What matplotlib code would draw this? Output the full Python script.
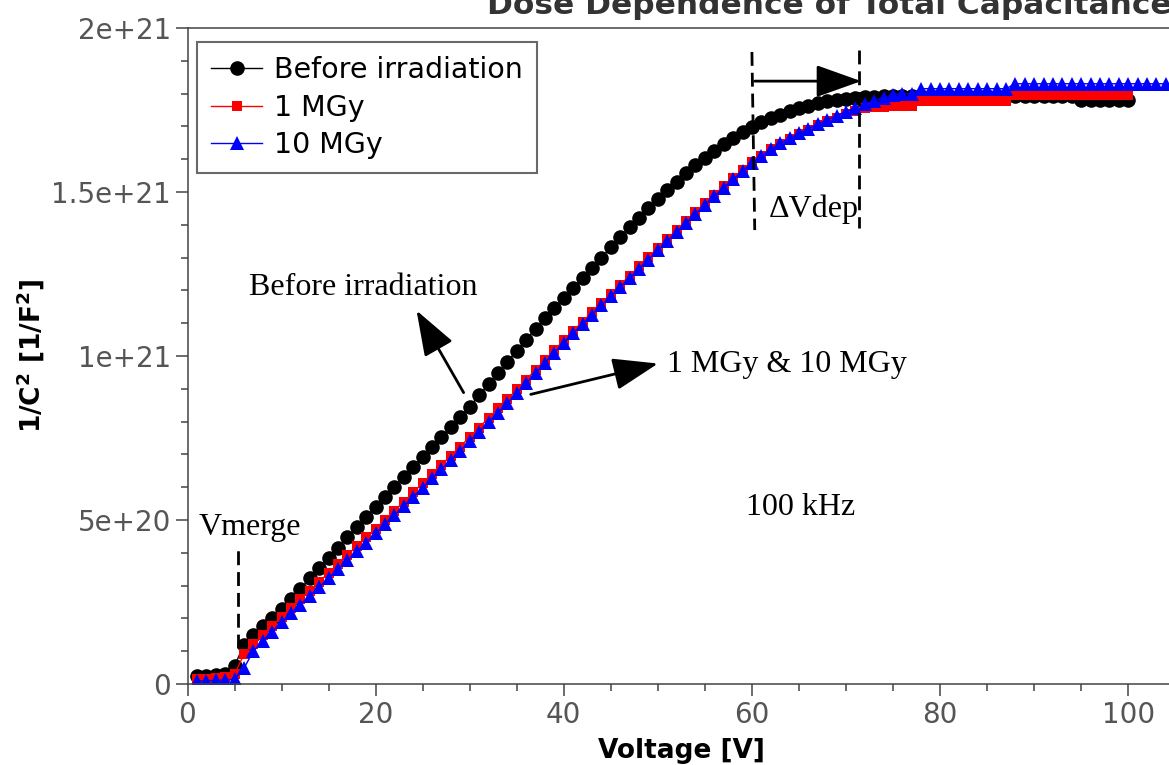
import numpy as np
import matplotlib
matplotlib.use("Agg")
import matplotlib.pyplot as plt
from matplotlib.ticker import MultipleLocator

# bias voltage [V]
volt = np.arange(1, 101)
volt_10 = np.arange(1, 106)

# 1/C^2 in units of 1e21 1/F^2
before = [0.025, 0.025, 0.026, 0.032, 0.055, 0.120, 0.150, 0.176, 0.202, 0.228,
          0.258, 0.290, 0.322, 0.354, 0.385, 0.416, 0.447, 0.478, 0.509, 0.540,
          0.571, 0.602, 0.632, 0.662, 0.692, 0.722, 0.752, 0.783, 0.814, 0.846,
          0.880, 0.914, 0.948, 0.982, 1.016, 1.050, 1.083, 1.115, 1.146, 1.176,
          1.206, 1.237, 1.268, 1.300, 1.331, 1.362, 1.392, 1.422, 1.451, 1.479,
          1.506, 1.532, 1.557, 1.581, 1.604, 1.626, 1.646, 1.665, 1.682, 1.698,
          1.712, 1.725, 1.736, 1.746, 1.755, 1.763, 1.770, 1.776, 1.781, 1.785,
          1.788, 1.790, 1.791, 1.792, 1.792, 1.792, 1.792, 1.792, 1.792, 1.792,
          1.792, 1.792, 1.792, 1.792, 1.792, 1.792, 1.792, 1.792, 1.792, 1.792,
          1.792, 1.792, 1.792, 1.792, 1.782, 1.782, 1.782, 1.782, 1.782, 1.782]

mgy1 = [0.015, 0.016, 0.017, 0.020, 0.030, 0.090, 0.122, 0.150, 0.177, 0.204,
        0.231, 0.258, 0.285, 0.312, 0.339, 0.366, 0.393, 0.420, 0.447, 0.474,
        0.501, 0.528, 0.556, 0.584, 0.612, 0.640, 0.668, 0.696, 0.724, 0.753,
        0.782, 0.811, 0.840, 0.869, 0.898, 0.928, 0.958, 0.988, 1.018, 1.048,
        1.077, 1.105, 1.133, 1.161, 1.189, 1.217, 1.245, 1.273, 1.301, 1.329,
        1.357, 1.385, 1.412, 1.439, 1.466, 1.492, 1.518, 1.543, 1.567, 1.590,
        1.611, 1.630, 1.647, 1.663, 1.677, 1.690, 1.703, 1.715, 1.727, 1.738,
        1.748, 1.756, 1.760, 1.760, 1.762, 1.762, 1.762, 1.776, 1.776, 1.776,
        1.776, 1.776, 1.776, 1.776, 1.776, 1.776, 1.776, 1.796, 1.796, 1.796,
        1.796, 1.796, 1.796, 1.796, 1.796, 1.796, 1.796, 1.796, 1.796, 1.796]

mgy10 = [0.010, 0.010, 0.011, 0.012, 0.014, 0.048, 0.100, 0.132, 0.160, 0.188,
         0.215, 0.242, 0.269, 0.296, 0.323, 0.350, 0.377, 0.404, 0.431, 0.459,
         0.487, 0.515, 0.543, 0.571, 0.599, 0.627, 0.655, 0.683, 0.711, 0.740,
         0.769, 0.798, 0.827, 0.856, 0.886, 0.917, 0.948, 0.979, 1.010, 1.040,
         1.070, 1.098, 1.126, 1.154, 1.182, 1.210, 1.238, 1.266, 1.294, 1.322,
         1.350, 1.378, 1.406, 1.433, 1.460, 1.487, 1.513, 1.539, 1.564, 1.588,
         1.610, 1.630, 1.648, 1.664, 1.679, 1.693, 1.707, 1.720, 1.733, 1.745,
         1.757, 1.768, 1.778, 1.788, 1.797, 1.800, 1.800, 1.815, 1.815, 1.815,
         1.815, 1.815, 1.815, 1.815, 1.815, 1.815, 1.815, 1.830, 1.830, 1.830,
         1.830, 1.830, 1.830, 1.830, 1.830, 1.830, 1.830, 1.830, 1.830, 1.830,
         1.830, 1.830, 1.830, 1.830, 1.830]

scale = 1e21
ytick_vals = [0, 5e20, 1e21, 1.5e21, 2e21]
ytick_labels = ["0", "5e+20", "1e+21", "1.5e+21", "2e+21"]

fig = plt.figure(figsize=(11.69, 7.65), dpi=100)
ax = fig.add_axes([187.5 / 1169, 81 / 765, 105 * 9.407 / 1169, 656 / 765])

ax.plot(volt, np.array(before) * scale, "-o", color="black", lw=1,
        ms=10.5, mew=0, label="Before irradiation")
ax.plot(volt, np.array(mgy1) * scale, "-s", color="red", lw=1,
        ms=7, mew=0, label="1 MGy")
ax.plot(volt_10, np.array(mgy10) * scale, "-^", color="blue", lw=1,
        ms=10, mew=0, label="10 MGy")

ax.set_xlim(0, 105)
ax.set_ylim(0, 2e21)
ax.set_yticks(ytick_vals)
ax.set_yticklabels(ytick_labels)
ax.xaxis.set_major_locator(MultipleLocator(20))
ax.xaxis.set_minor_locator(MultipleLocator(5))
ax.yaxis.set_minor_locator(MultipleLocator(1e20))
ax.tick_params(which="both", direction="out", color="#444444", labelcolor="#555555",
               labelsize=20, width=1.1)
ax.tick_params(which="major", length=8.5)
ax.tick_params(which="minor", length=5)
for s in ax.spines.values():
    s.set_color("#444444")
    s.set_linewidth(1.1)

ax.set_xlabel("Voltage [V]", fontsize=19, fontweight="bold", labelpad=7)
ax.set_ylabel("1/C$^\\mathbf{2}$ [1/F$^\\mathbf{2}$]", fontsize=19,
              fontweight="bold", labelpad=3)

leg = ax.legend(loc="upper left", fontsize=20.5, frameon=True, fancybox=False,
                borderpad=0.5, labelspacing=0.33, handlelength=1.8,
                handletextpad=0.4, borderaxespad=0,
                bbox_to_anchor=(0.0096, 0.9787))
leg.get_frame().set_edgecolor("#444444")
leg.get_frame().set_linewidth(1.5)

fig.text(487 / 1169, 1 - 14 / 765, "Dose Dependence of Total Capacitance",
         fontsize=22.5, fontweight="bold", color="#333333", va="baseline", ha="left")

serif = "Liberation Serif"
arrow = dict(arrowstyle="-|>,head_length=1.4,head_width=0.5", color="black",
             lw=2, mutation_scale=20)

ax.text(18.66, 1.21e21, "Before irradiation", family=serif, fontsize=23,
        ha="center", va="center")
ax.annotate("", xy=(24.2, 1.146e21), xytext=(29.5, 0.881e21), arrowprops=arrow)
ax.text(51.0, 0.973e21, "1 MGy & 10 MGy", family=serif, fontsize=23,
        ha="left", va="center")
ax.annotate("", xy=(50.3, 0.979e21), xytext=(36.2, 0.881e21), arrowprops=arrow)
ax.text(65.2, 0.537e21, "100 kHz", family=serif, fontsize=23, ha="center", va="center")
ax.text(6.6, 0.476e21, "Vmerge", family=serif, fontsize=23, ha="center", va="center")
ax.text(66.6, 1.448e21, "\u0394Vdep", family=serif, fontsize=23, ha="center", va="center")

dash = dict(color="black", lw=2, ls=(0, (5, 2.5)))
ax.plot([5.37, 5.37], [0.11e21, 0.4085e21], **dash)
ax.plot([60.0, 60.3], [1.927e21, 1.384e21], **dash)
ax.plot([71.4, 71.4], [1.933e21, 1.39e21], **dash)
ax.annotate("", xy=(71.9, 1.838e21), xytext=(60.0, 1.838e21), arrowprops=arrow)

fig.savefig("out.png", dpi=100)
